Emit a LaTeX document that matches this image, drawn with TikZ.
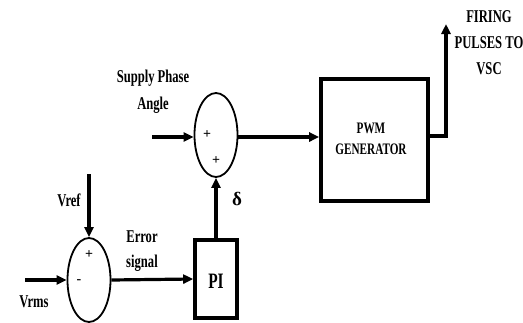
\documentclass[tikz,border=0pt]{standalone}
\usepackage{fontspec}
\newfontfamily\lbl{Liberation Serif}[FakeStretch=0.7]
\newfontfamily\grk{Liberation Serif}
\usetikzlibrary{shapes.geometric,arrows.meta}
\begin{document}
\begin{tikzpicture}[x=1pt,y=-1pt,
  lab/.style={font=\lbl\bfseries\fontsize{18}{19}\selectfont,inner sep=0pt,align=center},
  sumj/.style={ellipse,draw,line width=1.8pt,minimum width=43pt,minimum height=84pt,inner sep=0pt},
  blk/.style={rectangle,draw,line width=3.6pt,inner sep=0pt},
  sig/.style={line width=3.2pt,-{Triangle[length=10pt,width=9pt]}},
  sgn/.style={font=\grk\bfseries\fontsize{14}{14}\selectfont,inner sep=0pt}]
\useasboundingbox (0,0) rectangle (523,322);
% blocks
\node[sumj] (s2) at (216,135) {};
\node[sumj] (s1) at (89,280) {};
\node[blk,minimum width=107pt,minimum height=122pt] (pwm) at (374.5,140) {};
\node[blk,minimum width=42pt,minimum height=78pt] (pi) at (216,279) {};
% signs
\node[sgn] (p1) at (207,135) {+};
\node[sgn] (p2) at (216,161) {+};
\node[sgn] (p3) at (89,255) {+};
\node[sgn] (m1) at (79,282) {-};
% texts
\node[lab,font=\lbl\bfseries\fontsize{16}{17}\selectfont] (tpwm) at (371,139) {PWM\\[4pt]GENERATOR};
\node[lab,font=\lbl\bfseries\fontsize{22}{22}\selectfont] (tpi) at (216,281) {PI};
\node[lab] (tspa) at (153,92) {Supply Phase\\[8pt]Angle};
\node[lab] (tfire) at (489,43) {FIRING\\[7pt]PULSES TO\\[7pt]VSC};
\node[lab] (tvref) at (69,200) {Vref};
\node[lab] (tvrms) at (34,302) {Vrms};
\node[lab] (terr) at (142,251) {Error\\[6pt]signal};
\node[font=\grk\bfseries\fontsize{19}{19}\selectfont,inner sep=0pt] (tdelta) at (237,199) {δ};
% free ends
\coordinate (spa) at (152,137);
\coordinate (fire) at (446,24);
\coordinate (vref) at (89,174);
\coordinate (vrms) at (25,280);
% connectors
\draw[sig] (spa) -- (spa -| s2.west);
\draw[sig] (s2.east |- spa) -- (spa -| pwm.west);
\draw[sig] (pwm.east |- 0,136) -| (fire);
\draw[sig] (vref) -- (s1.north);
\draw[sig] (vrms) -- (s1.west);
\draw[sig] (s1.east) -- (pi.west);
\draw[sig] (pi.north) -- (s2.south);
\end{tikzpicture}
\end{document}
